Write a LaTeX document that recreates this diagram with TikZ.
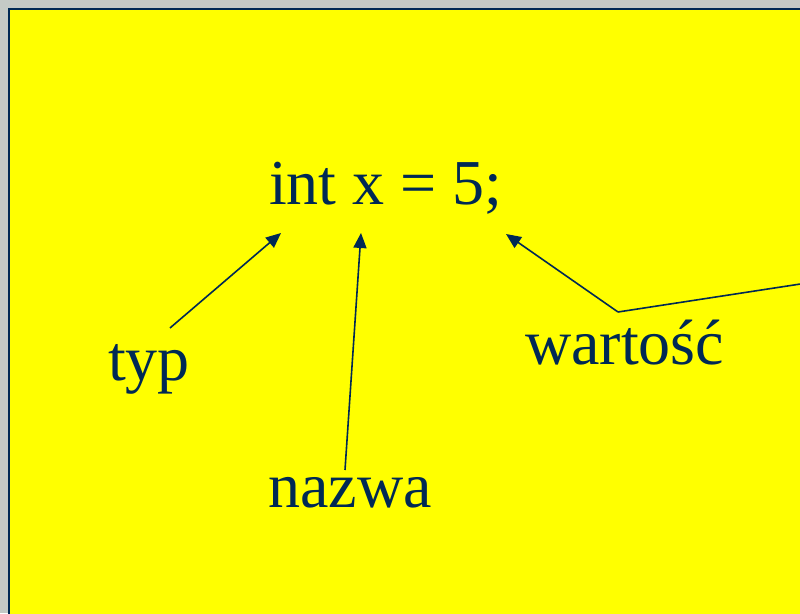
\documentclass[tikz,border=0pt]{standalone}
\usepackage{fontspec}
\setmainfont{Liberation Serif}
\usetikzlibrary{arrows.meta}
\definecolor{navy}{RGB}{0,41,84}
\definecolor{slidebg}{RGB}{255,255,0}
\definecolor{margin}{RGB}{196,202,198}
\tikzset{
  lbl/.style={anchor=base west, inner sep=0pt, text=navy, font=\fontsize{64}{70}\selectfont},
  pointer/.style={draw=navy, line width=1.6pt, -{Triangle[length=15pt,width=13pt]}},
  plain/.style={draw=navy, line width=1.6pt}
}
\begin{document}
\begin{tikzpicture}[x=1pt,y=1pt]
\useasboundingbox (0,0) rectangle (800,613);
\clip (0,0) rectangle (800,613);
\fill[margin] (0,0) rectangle (800,613);
\filldraw[fill=slidebg, draw=navy, line width=2pt] (9,-20) rectangle (820,604);
\node[lbl] (code) at (269,408) {int x = 5;};
\node[lbl] (typ) at (108,232) {typ};
\node[lbl] (nazwa) at (268,105) {nazwa};
\node[lbl] (wartosc) at (525,248) {wartość};
\coordinate (typS) at (170,285);
\coordinate (typT) at (281,380);
\coordinate (nazS) at (345,143);
\coordinate (nazT) at (361,380);
\coordinate (warS) at (618,301);
\coordinate (warT) at (506,379);
\coordinate (warE) at (820,332);
\draw[pointer] (typS) -- (typT);
\draw[pointer] (nazS) -- (nazT);
\draw[pointer] (warS) -- (warT);
\draw[plain] (warS) -- (warE);
\end{tikzpicture}
\end{document}
